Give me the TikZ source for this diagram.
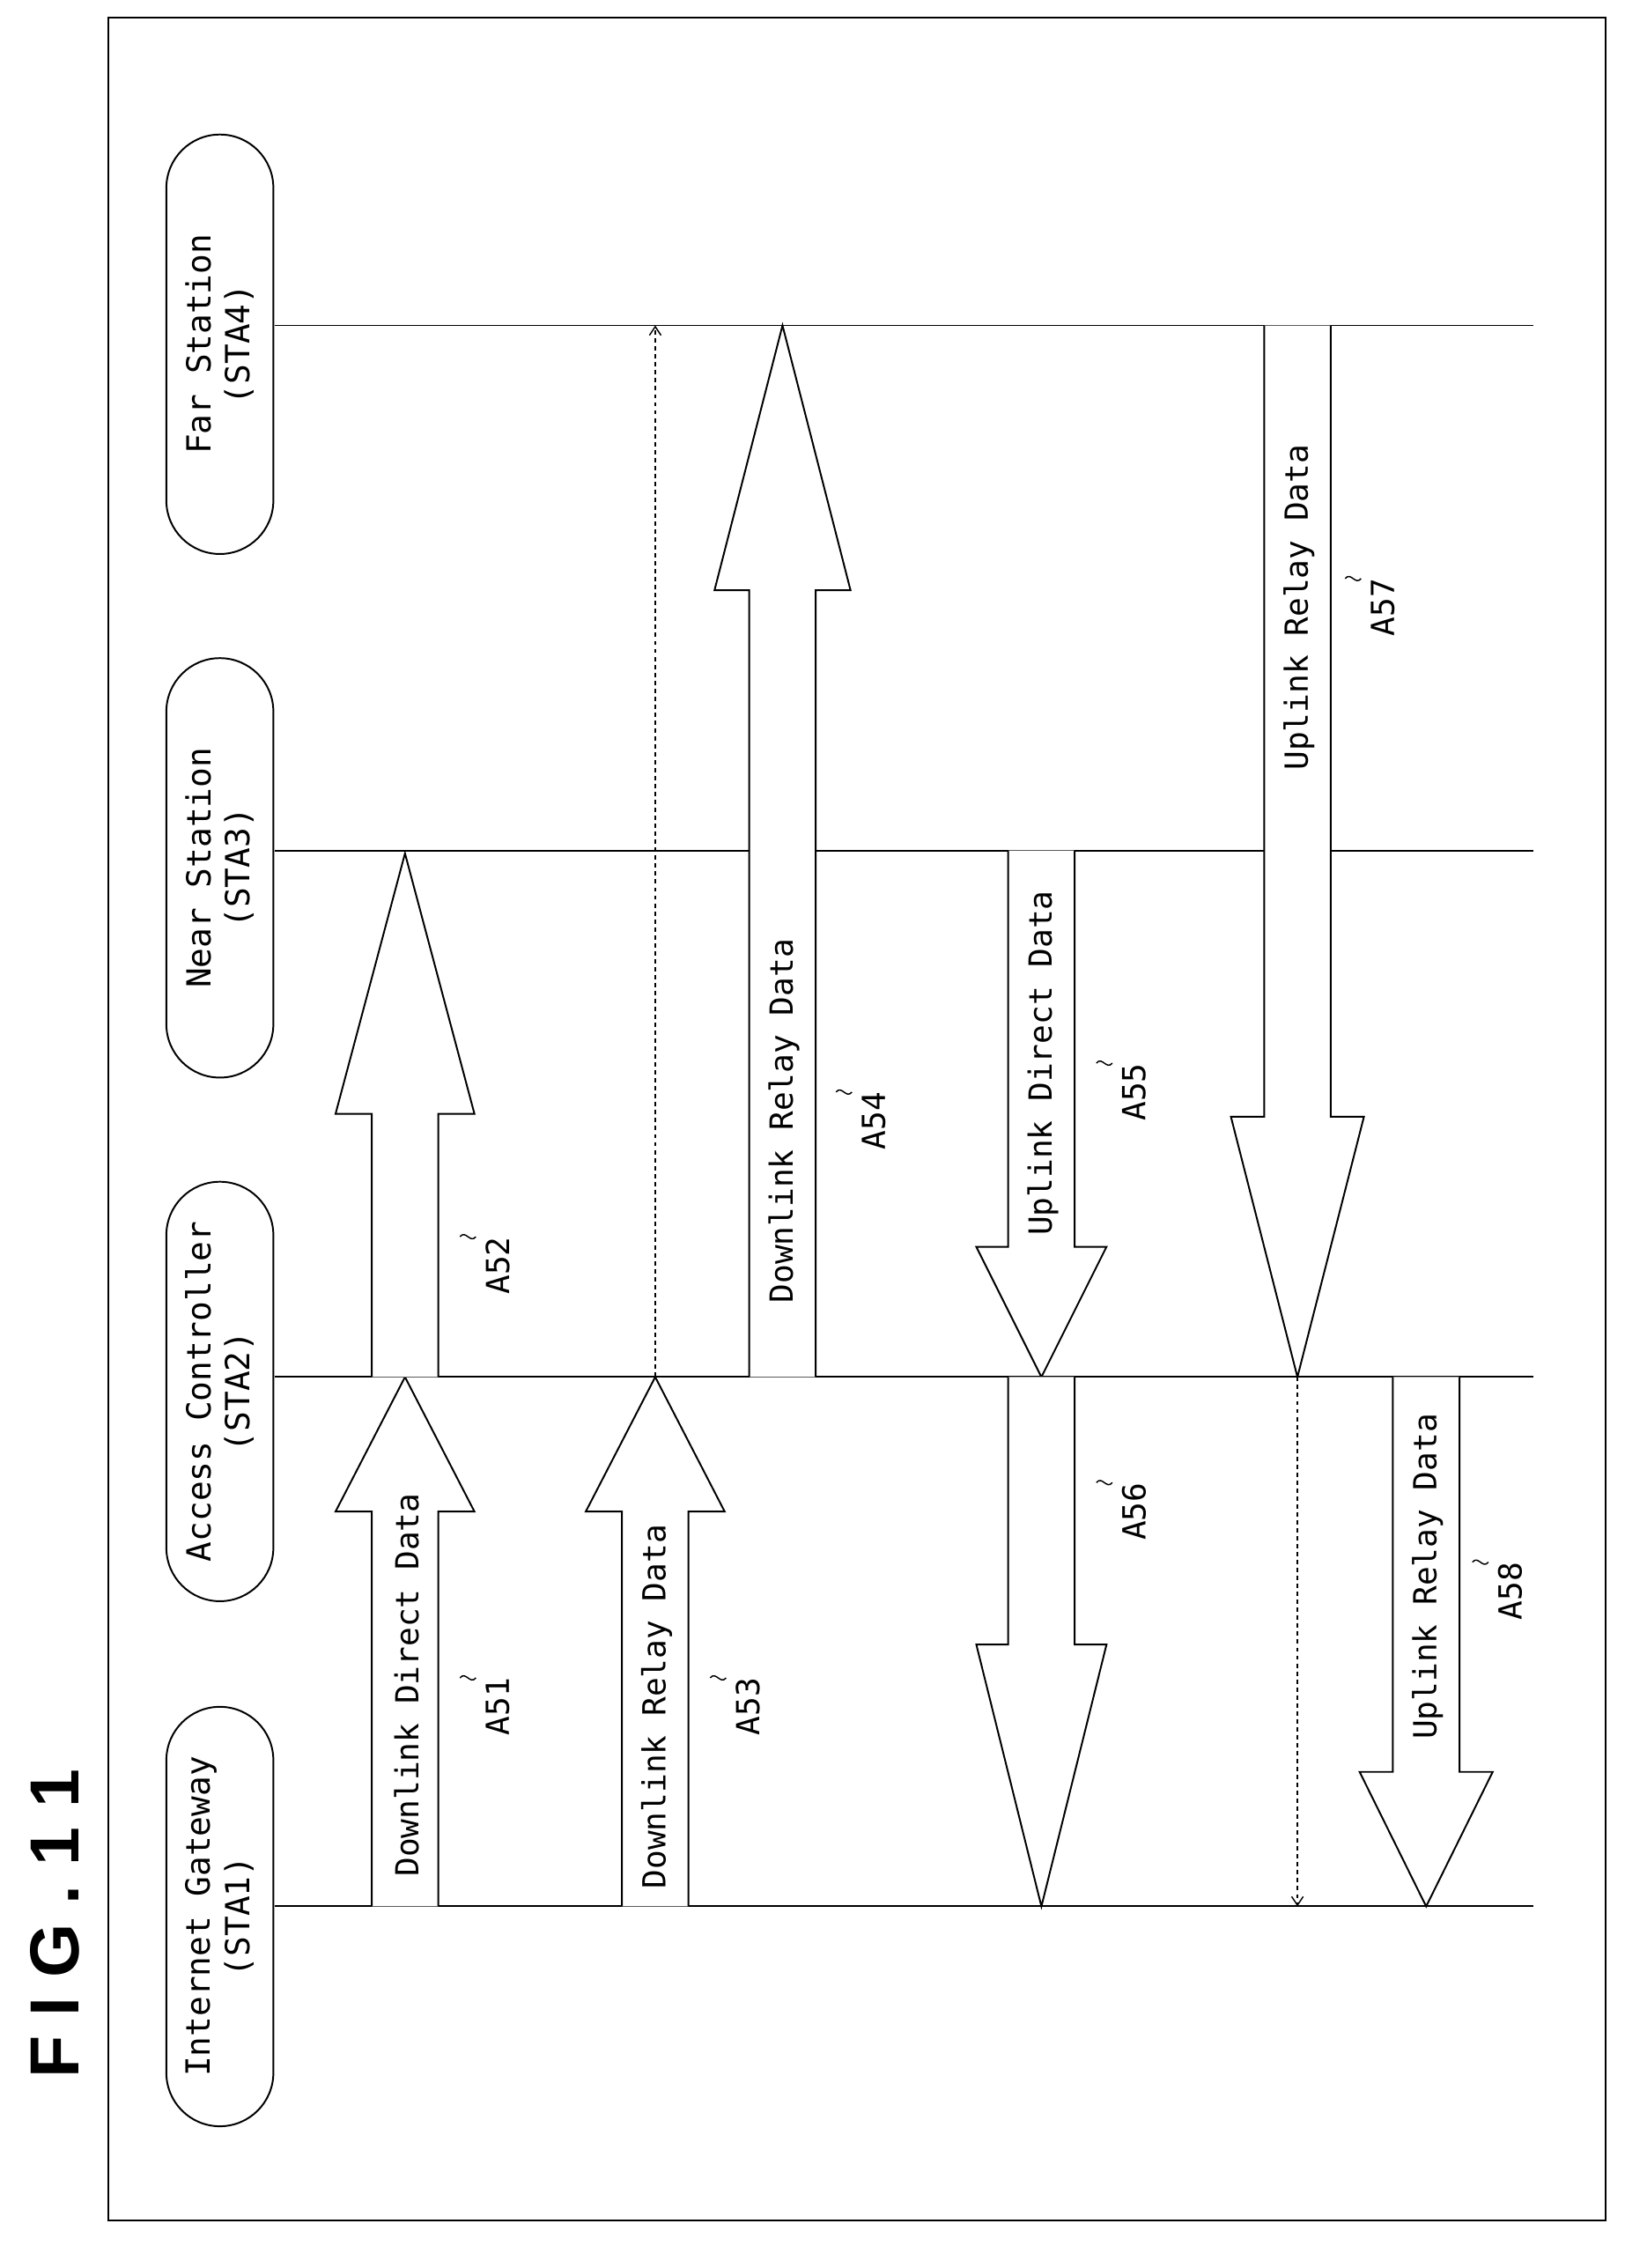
\documentclass[tikz,border=0pt]{standalone}
\usepackage{fontspec}
\setmainfont{DejaVu Sans Mono}
\newfontfamily\figfont{Liberation Sans}
\usetikzlibrary{arrows.meta}
\begin{document}
\begin{tikzpicture}[x=1pt,y=-1pt,
  pill/.style={draw,line width=1.2pt,rounded corners=37pt,minimum width=290pt,minimum height=74pt,rotate=90,align=center,font=\fontsize{23}{27}\selectfont,fill=white,inner sep=1pt},
  lab/.style={rotate=90,font=\fontsize{22}{25}\selectfont,inner sep=0pt},
  blk/.style={draw,line width=1.2pt,fill=white,line join=miter},
  life/.style={line width=1.2pt},
  dsh/.style={dash pattern=on 3pt off 2.5pt,line width=0.9pt,-{Straight Barb[length=6pt,width=8pt]}}]
\useasboundingbox (0,0) rectangle (1123,1568);
\draw[line width=1.2pt] (75,12) rectangle (1110,1535);
\node[rotate=90,font=\figfont\bfseries\fontsize{48}{50}\selectfont] (fig) at (38,1330) {F I G . 1 1};
% lifelines
\foreach \y/\n in {225/4,588/3,952/2,1318/1} \draw[life] (190,\y) -- (1060,\y) coordinate (L\n);
% headers
\node[pill] (s4) at (152,238) {Far Station\\(STA4)};
\node[pill] (s3) at (152,600) {Near Station\\(STA3)};
\node[pill] (s2) at (152,962) {Access Controller\\(STA2)};
\node[pill] (s1) at (152,1325) {Internet Gateway\\(STA1)};
% block arrows: xc, y0, yh, ytip, sw, hw
\newcommand\barrow[6]{\draw[blk] (#1-#5,#2) -- (#1-#5,#3) -- (#1-#6,#3) -- (#1,#4) -- (#1+#6,#3) -- (#1+#5,#3) -- (#1+#5,#2);}
\barrow{280}{1318}{1045}{952}{23}{48}
\barrow{280}{952}{770}{590}{23}{48}
\barrow{453}{1318}{1045}{952}{23}{48}
\barrow{541}{952}{408}{225}{23}{47}
\barrow{720}{588}{862}{952}{23}{45}
\barrow{720}{952}{1137}{1318}{23}{45}
\barrow{897}{225}{772}{952}{23}{46}
\barrow{986}{952}{1225}{1318}{23}{46}
% dashed arrows
\coordinate (d1a) at (453,952); \coordinate (d1b) at (453,225);
\draw[dsh] (d1a) -- (d1b);
\coordinate (d2a) at (897,952); \coordinate (d2b) at (897,1318);
\draw[dsh] (d2a) -- (d2b);
% texts in shafts
\node[lab] (t51) at (281,1165) {Downlink Direct Data};
\node[lab] (t53) at (454,1180) {Downlink Relay Data};
\node[lab] (t54) at (542,775) {Downlink Relay Data};
\node[lab] (t55) at (721,735) {Uplink Direct Data};
\node[lab] (t57) at (898,420) {Uplink Relay Data};
\node[lab] (t58) at (987,1090) {Uplink Relay Data};
% reference labels with squiggles
\newcommand\reflab[3]{\node[lab] at (#1+24,#2+20) {#3};
 \draw[line width=0.9pt] (#1-2,#2) .. controls (#1+2,#2-5) and (#1+5,#2+5) .. (#1+9,#2);}
\reflab{320}{1160}{A51}
\reflab{320}{855}{A52}
\reflab{493}{1160}{A53}
\reflab{580}{755}{A54}
\reflab{760}{735}{A55}
\reflab{760}{1025}{A56}
\reflab{932}{400}{A57}
\reflab{1020}{1080}{A58}
\end{tikzpicture}
\end{document}
